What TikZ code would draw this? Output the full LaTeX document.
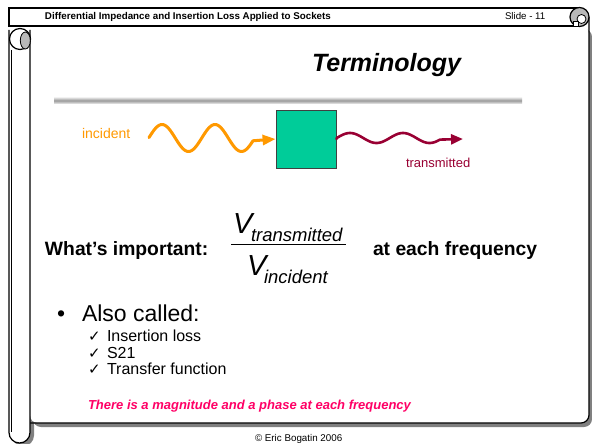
\documentclass[tikz,border=0pt]{standalone}
\usepackage{fontspec}
\setmainfont{Liberation Sans}
\newfontfamily\symfont{DejaVu Sans}
\usetikzlibrary{arrows.meta}
\definecolor{incolor}{HTML}{FF9900}
\definecolor{outcolor}{HTML}{990033}
\definecolor{boxgreen}{HTML}{00CC99}
\definecolor{notecolor}{HTML}{FF0066}
\definecolor{shadowgray}{HTML}{808080}
\newcommand{\fsz}[1]{\fontsize{#1}{#1}\selectfont}

\begin{document}
\begin{tikzpicture}[x=1pt, y=-1pt,
  txt/.style={inner sep=0pt, outer sep=0pt, anchor=base west},
  frameline/.style={draw=black, line width=1.2pt},
  headtxt/.style={txt, font=\fsz{9.8}\bfseries},
  bigbold/.style={txt, font=\fsz{19.3}\bfseries},
  fracV/.style={txt, font=\fsz{29}\itshape},
  fracsub/.style={txt, font=\fsz{18.5}\itshape},
  itemtxt/.style={txt, font=\fsz{16}},
  checkmark/.style={txt, font=\symfont\bfseries\fsz{15}},
  wave/.style={line width=#1, line cap=round, line join=round},
]
\useasboundingbox (0,0) rectangle (592,444);

% ---- scroll frame ----
% drop shadows
\fill[shadowgray, rounded corners=8] (33,29) rectangle (592,427);
\fill[shadowgray, rounded corners=10.5] (12,30) -- (12,446) -- (34,446) -- (34,30) -- cycle;
% page body
\fill[white, rounded corners=8] (30,26) rectangle (589,423);
\draw[frameline, rounded corners=8] (589,17) -- (589,423) -- (30,423);
% header band
\filldraw[fill=white, frameline] (9,8) rectangle (580,26);
% left roll
\filldraw[fill=white, frameline, rounded corners=10.5] (9,30) -- (9,443) -- (30,443) -- (30,30);
\draw[line width=0.8pt] (11.6,50) -- (11.6,432);
% left curl
\filldraw[fill=white, frameline] (20,39) circle (10.5);
\filldraw[fill=gray!55, line width=0.8pt] (25.3,40.5) ellipse [x radius=5, y radius=8.5];
% right curl
\filldraw[fill=gray!55, frameline] (579.5,17) circle (9.5);
\filldraw[fill=white, line width=0.8pt] (581.5,19) circle (4.5);
\filldraw[fill=white, line width=0.8pt] (573,21.5) rectangle (578,26);

% ---- header and footer ----
\node[headtxt] (head) at (45,20) {Differential Impedance and Insertion Loss Applied to Sockets};
\node[txt, font=\fsz{9.7}] (slide) at (505,20) {Slide - 11};
\node[txt, font=\fsz{9.8}] (foot) at (255,441) {© Eric Bogatin 2006};

% ---- title ----
\node[txt, font=\fsz{25}\bfseries\itshape] (title) at (312,72) {Terminology};
\shade[top color=gray!30, bottom color=gray!30, middle color=gray!80] (54,98) rectangle (522,103);

% ---- incident / transmitted sketch ----
\node[draw=black!75, line width=0.8pt, fill=boxgreen, minimum width=60pt, minimum height=58pt,
      inner sep=0pt] (dut) at (306,139) {};
\node[txt, font=\fsz{14}, text=incolor] (inlab) at (82,138) {incident};
\node[txt, font=\fsz{13}, text=outcolor] (outlab) at (406,167) {transmitted};
\coordinate (outtip) at (463,139);

% wave period 53 units: 360/53 = 6.79245 degrees per unit
\draw[incolor, wave=3pt, -{Triangle[length=13pt, width=10pt]}]
  plot[domain=149:253, samples=80, smooth] (\x, {138 - 13.5*cos(6.79245*(\x-162))})
  -- (dut.west);
\draw[outcolor, wave=2.6pt, -{Triangle[length=12pt, width=10pt]}]
  (dut.east) -- plot[domain=337:440, samples=80, smooth] (\x, {138 - 5*cos(6.79245*(\x-350))})
  -- (outtip);

% ---- ratio ----
\node[bigbold] (what) at (45,255) {What’s important:};
\node[fracV] (numV) at (233,233) {V};
\node[fracsub] (numsub) at (251,241) {transmitted};
\node[fracV] (denV) at (247,275) {V};
\node[fracsub] (densub) at (264,283) {incident};
\draw[line width=0.9pt] (231,244) -- (346,244);
\node[bigbold] (freq) at (373,255) {at each frequency};

% ---- list ----
\node[txt, font=\fsz{23}] (bullet) at (57,321) {•};
\node[txt, font=\fsz{23}] (also) at (82,321) {Also called:};
\node[checkmark] (c1) at (88,341) {✓};
\node[itemtxt] (i1) at (107,341) {Insertion loss};
\node[checkmark] (c2) at (88,358) {✓};
\node[itemtxt] (i2) at (107,358) {S21};
\node[checkmark] (c3) at (88,374) {✓};
\node[itemtxt] (i3) at (107,374) {Transfer function};

\node[txt, font=\fsz{13}\bfseries\itshape, text=notecolor] (note) at (88,409.5)
  {There is a magnitude and a phase at each frequency};
\end{tikzpicture}
\end{document}
